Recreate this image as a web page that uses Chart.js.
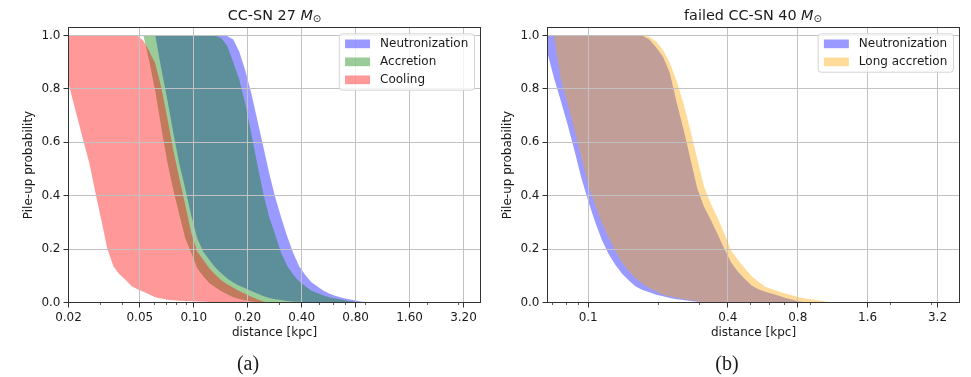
<!DOCTYPE html>
<html>
<head>
<meta charset="utf-8">
<title>Pile-up probability</title>
<script src="https://cdn.jsdelivr.net/npm/chart.js@4.4.1/dist/chart.umd.min.js"></script>
<style>
    body { margin: 0; width: 971px; height: 377px; position: relative; overflow: hidden; background: #fff; }
    canvas { position: absolute; top: 0; display: block; }
    .title { position: absolute; top: 8px; width: 300px; text-align: center; font: 14.4px/14.4px "DejaVu Sans", sans-serif; color: #1a1a1a; white-space: nowrap; }
    .title sub { font-size: 0.7em; vertical-align: -0.15em; line-height: 0; }
    .caption { position: absolute; top: 353px; width: 60px; text-align: center; font: 20px/20px "Liberation Serif", serif; color: #1a1a1a; }
</style>
</head>
<body>
<canvas id="chartA" width="490" height="377" style="left:0"></canvas>
<canvas id="chartB" width="481" height="377" style="left:490px"></canvas>
<div class="title" style="left:124.5px">CC-SN 27 <i>M</i><sub>⊙</sub></div>
<div class="title" style="left:603px">failed CC-SN 40 <i>M</i><sub>⊙</sub></div>
<div class="caption" style="left:218px">(a)</div>
<div class="caption" style="left:697px">(b)</div>
<script>
// --- CC-SN 27 Msun: distance grid [kpc] and pile-up probability bounds per phase
const distA = [0.0200, 0.02245, 0.02422, 0.02619, 0.02827, 0.03056, 0.03295, 0.03565, 0.03845, 0.04157,
    0.04490, 0.04843, 0.05238, 0.05654, 0.06101, 0.06589, 0.07119, 0.07691, 0.08304, 0.08969,
    0.09686, 0.10466, 0.11297, 0.12201, 0.13178, 0.14238, 0.15371, 0.16608, 0.17928, 0.19362,
    0.20921, 0.22594, 0.24403, 0.26346, 0.28456, 0.30732, 0.33195, 0.35846, 0.38714, 0.41811,
    0.45158, 0.48774, 0.52672, 0.56891, 0.61433, 0.66349, 0.71660, 0.77397, 0.83591, 0.90274, 0.97497];

const neutroLoA = [1, 1, 1, 1, 1, 1, 1, 1, 1, 1,
    1, 1, 1, 1, 1, 0.875, 0.76, 0.635, 0.52, 0.425,
    0.325, 0.24, 0.19, 0.16, 0.131, 0.11, 0.09, 0.075, 0.063, 0.053,
    0.043, 0.034, 0.024, 0.017, 0.012, 0.009, 0.006, 0.004, 0.003, 0.002,
    0.001, 0, 0, 0, 0, 0, 0, 0, 0, 0, 0];
const neutroHiA = [1, 1, 1, 1, 1, 1, 1, 1, 1, 1,
    1, 1, 1, 1, 1, 1, 1, 1, 1, 1,
    1, 1, 1, 1, 1, 1, 0.998, 0.985, 0.94, 0.87,
    0.785, 0.685, 0.585, 0.485, 0.395, 0.318, 0.248, 0.186, 0.136, 0.104,
    0.077, 0.061, 0.045, 0.034, 0.025, 0.019, 0.013, 0.009, 0.005, 0.002, 0];

const accLoA = [1, 1, 1, 1, 1, 1, 1, 1, 1, 1,
    1, 1, 1, 0.90, 0.79, 0.655, 0.525, 0.42, 0.33, 0.24,
    0.185, 0.127, 0.098, 0.073, 0.057, 0.042, 0.031, 0.02, 0.013, 0.008,
    0.004, 0.002, 0, 0, 0, 0, 0, 0, 0, 0,
    0, 0, 0, 0, 0, 0, 0, 0, 0, 0, 0];
const accHiA = [1, 1, 1, 1, 1, 1, 1, 1, 1, 1,
    1, 1, 1, 1, 1, 1, 1, 1, 1, 1,
    1, 1, 1, 1, 1, 0.99, 0.962, 0.90, 0.835, 0.745,
    0.635, 0.52, 0.41, 0.32, 0.255, 0.185, 0.138, 0.105, 0.079, 0.062,
    0.045, 0.036, 0.027, 0.02, 0.015, 0.011, 0.007, 0.004, 0.002, 0, 0];

const coolLoA = [0.82, 0.69, 0.605, 0.52, 0.41, 0.305, 0.20, 0.135, 0.106, 0.085,
    0.062, 0.05, 0.04, 0.03, 0.02, 0.015, 0.01, 0.008, 0.007, 0.006,
    0.005, 0.004, 0.003, 0.002, 0.002, 0.001, 0, 0, 0, 0,
    0, 0, 0, 0, 0, 0, 0, 0, 0, 0,
    0, 0, 0, 0, 0, 0, 0, 0, 0, 0, 0];
const coolHiA = [1, 1, 1, 1, 1, 1, 1, 1, 1, 1,
    1, 1, 0.98, 0.94, 0.895, 0.805, 0.69, 0.57, 0.465, 0.365,
    0.26, 0.19, 0.16, 0.128, 0.105, 0.083, 0.068, 0.055, 0.043, 0.033,
    0.022, 0.012, 0.004, 0, 0, 0, 0, 0, 0, 0,
    0, 0, 0, 0, 0, 0, 0, 0, 0, 0, 0];

// --- failed CC-SN 40 Msun
const distB = [0.06652, 0.07117, 0.07614, 0.08152, 0.08721, 0.09331, 0.09983, 0.10676, 0.11431, 0.12228,
    0.13086, 0.13997, 0.14980, 0.16024, 0.17152, 0.18352, 0.19635, 0.21011, 0.22480, 0.24052,
    0.25738, 0.27538, 0.29463, 0.31532, 0.33735, 0.36094, 0.38629, 0.41328, 0.44215, 0.47318,
    0.50628, 0.54166, 0.57963, 0.62018, 0.66363, 0.71008, 0.75974, 0.81291, 0.86991, 0.93074,
    0.99591, 1.06564, 1.14023, 1.21998];

const neutroLoB = [0.94, 0.842, 0.757, 0.667, 0.57, 0.468, 0.383, 0.305, 0.236, 0.183,
    0.141, 0.108, 0.082, 0.06, 0.047, 0.038, 0.029, 0.023, 0.017, 0.012,
    0.009, 0.006, 0.003, 0.001, 0, 0, 0, 0, 0, 0,
    0, 0, 0, 0, 0, 0, 0, 0, 0, 0,
    0, 0, 0, 0];
const neutroHiB = [1, 1, 1, 1, 1, 1, 1, 1, 1, 1,
    1, 1, 1, 1, 0.999, 0.985, 0.955, 0.92, 0.86, 0.75,
    0.65, 0.54, 0.43, 0.36, 0.31, 0.257, 0.2, 0.15, 0.115, 0.088,
    0.064, 0.05, 0.04, 0.033, 0.025, 0.017, 0.01, 0.004, 0.001, 0,
    0, 0, 0, 0];

const longLoB = [1, 1, 0.84, 0.745, 0.648, 0.548, 0.445, 0.37, 0.30, 0.245,
    0.194, 0.15, 0.117, 0.091, 0.07, 0.054, 0.041, 0.029, 0.023, 0.018,
    0.013, 0.009, 0.005, 0.001, 0, 0, 0, 0, 0, 0,
    0, 0, 0, 0, 0, 0, 0, 0, 0, 0,
    0, 0, 0, 0];
const longHiB = [1, 1, 1, 1, 1, 1, 1, 1, 1, 1,
    1, 1, 1, 1, 1, 0.995, 0.978, 0.946, 0.898, 0.83,
    0.745, 0.647, 0.54, 0.435, 0.37, 0.318, 0.258, 0.195, 0.159, 0.128,
    0.098, 0.078, 0.059, 0.05, 0.041, 0.033, 0.026, 0.02, 0.014, 0.011,
    0.007, 0.003, 0.001, 0];

// axis ticks
const yTicks = [0, 0.2, 0.4, 0.6, 0.8, 1.0];
const xTicksA = [0.02, 0.05, 0.1, 0.2, 0.4, 0.8, 1.6, 3.2];
const xLabelsA = ['0.02', '0.05', '0.10', '0.20', '0.40', '0.80', '1.60', '3.20'];
const minorA = [0.03, 0.04, 0.06, 0.07, 0.08, 0.09, 0.3, 0.5, 0.6, 0.7, 0.9, 2, 3];
const xTicksB = [0.1, 0.4, 0.8, 1.6, 3.2];
const xLabelsB = ['0.1', '0.4', '0.8', '1.6', '3.2'];
const minorB = [0.07, 0.08, 0.09, 0.2, 0.3, 0.5, 0.6, 0.7, 0.9, 2, 3];

const BLUE = 'rgba(0, 0, 255, 0.4)';
const GREEN = 'rgba(0, 128, 0, 0.4)';
const RED = 'rgba(255, 0, 0, 0.4)';
const ORANGE = 'rgba(255, 165, 0, 0.4)';

Chart.defaults.font.family = '"DejaVu Sans", sans-serif';
Chart.defaults.font.size = 12;
Chart.defaults.color = '#1a1a1a';

// two lines, the upper one filled down to the lower one
function band(dist, lo, hi, color, label, order) {
    const common = {
        tension: 0,
        pointRadius: 0,
        borderWidth: 0,
        borderColor: 'rgba(0,0,0,0)',
        backgroundColor: color,
        order: order
    };
    return [
        Object.assign({ data: dist.map((d, i) => ({ x: d, y: lo[i] })), fill: false }, common),
        Object.assign({ label: label, data: dist.map((d, i) => ({ x: d, y: hi[i] })), fill: '-1' }, common)
    ];
}

// minor ticks, box frame and the in-axes legend
const panelExtras = {
    id: 'panelExtras',
    afterDraw(chart, args, opts) {
        const ctx = chart.ctx;
        const area = chart.chartArea;
        const xScale = chart.scales.x;
        ctx.save();

        ctx.strokeStyle = '#333';
        ctx.lineWidth = 0.8;
        ctx.beginPath();
        opts.minorTicks.forEach(v => {
            const px = Math.round(xScale.getPixelForValue(v)) + 0.5;
            ctx.moveTo(px, area.bottom);
            ctx.lineTo(px, area.bottom + 2.5);
        });
        ctx.stroke();

        ctx.lineWidth = 1;
        ctx.strokeStyle = '#333';
        ctx.strokeRect(area.left, area.top, area.right - area.left, area.bottom - area.top);

        const items = chart.data.datasets.filter(ds => ds.label);
        ctx.font = '12px "DejaVu Sans"';
        const textW = Math.max(...items.map(ds => ctx.measureText(ds.label).width));
        const w = 5.7 + 25 + 10 + textW + 6.2;
        const h = 20.4 + 18 * (items.length - 1);
        const bx = area.right - 6 - w;
        const by = area.top + 6.3;
        ctx.beginPath();
        ctx.roundRect(bx, by, w, h, 3);
        ctx.fillStyle = 'rgba(255,255,255,0.8)';
        ctx.fill();
        ctx.strokeStyle = '#d4d4d4';
        ctx.stroke();
        ctx.textBaseline = 'middle';
        ctx.textAlign = 'left';
        items.forEach((ds, i) => {
            const cy = by + 10 + 18 * i;
            ctx.fillStyle = ds.backgroundColor;
            ctx.fillRect(bx + 5.7, cy - 4.3, 25, 8.7);
            ctx.fillStyle = '#1a1a1a';
            ctx.fillText(ds.label, bx + 40.7, cy);
        });
        ctx.restore();
    }
};

function makeOptions(p) {
    const grid = { color: '#c2c2c2', lineWidth: 1, tickLength: 5, tickColor: '#333', z: 1 };
    return {
        responsive: false,
        animation: false,
        events: [],
        layout: { padding: { left: 0, top: 27.5, right: p.padRight, bottom: 0 } },
        plugins: {
            legend: { display: false },
            tooltip: { enabled: false },
            panelExtras: { minorTicks: p.minor }
        },
        scales: {
            x: {
                type: 'logarithmic',
                min: p.xMin,
                max: 3.98,
                afterBuildTicks: s => { s.ticks = p.ticks.map(v => ({ value: v })); },
                afterFit: s => { s.height = 74.5; },
                ticks: {
                    autoSkip: false,
                    maxRotation: 0,
                    padding: 3,
                    callback: v => p.labels[p.ticks.indexOf(v)]
                },
                grid: grid,
                border: { display: false },
                title: { display: true, text: 'distance [kpc]', padding: { top: 0, bottom: 36.8 } }
            },
            y: {
                min: 0,
                max: 1.03,
                afterBuildTicks: s => { s.ticks = yTicks.map(v => ({ value: v })); },
                afterFit: s => { s.width = p.yWidth; },
                ticks: { padding: 3, callback: v => v.toFixed(1) },
                grid: grid,
                border: { display: false },
                title: { display: true, text: 'Pile-up probability', padding: { top: p.yTitlePad, bottom: 0 } }
            }
        }
    };
}

new Chart(document.getElementById('chartA'), {
    type: 'line',
    data: {
        datasets: [].concat(
            band(distA, neutroLoA, neutroHiA, BLUE, 'Neutronization', 3),
            band(distA, accLoA, accHiA, GREEN, 'Accretion', 2),
            band(distA, coolLoA, coolHiA, RED, 'Cooling', 1)
        )
    },
    options: makeOptions({ xMin: 0.02, ticks: xTicksA, labels: xLabelsA, minor: minorA, yWidth: 68.5, padRight: 9.5, yTitlePad: 21.3 }),
    plugins: [panelExtras]
});

new Chart(document.getElementById('chartB'), {
    type: 'line',
    data: {
        datasets: [].concat(
            band(distB, neutroLoB, neutroHiB, BLUE, 'Neutronization', 2),
            band(distB, longLoB, longHiB, ORANGE, 'Long accretion', 1)
        )
    },
    options: makeOptions({ xMin: 0.0668, ticks: xTicksB, labels: xLabelsB, minor: minorB, yWidth: 57.5, padRight: 11.5, yTitlePad: 10.8 }),
    plugins: [panelExtras]
});
</script>
</body>
</html>
